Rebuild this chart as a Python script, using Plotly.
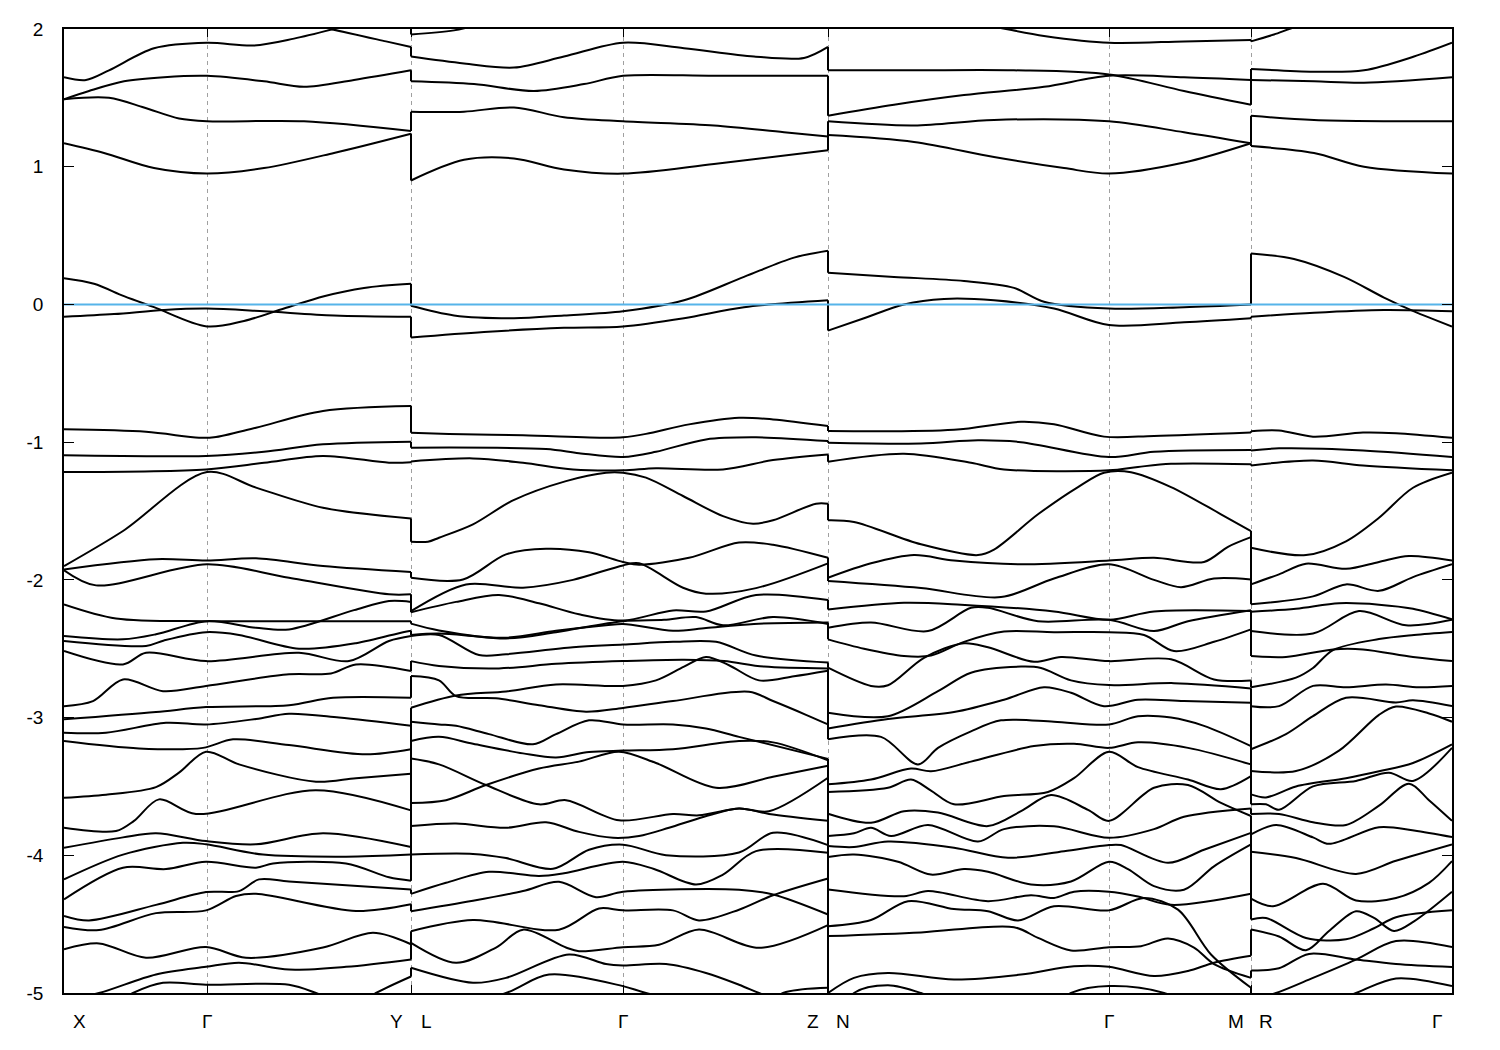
import plotly.graph_objects as go

# k-path: tick positions (path length, arbitrary units) and labels
TICK_K = [0, 143, 347, 559, 764, 1045, 1187, 1388]
TICK_LABELS = ["X", "Γ", "Y|L", "Γ", "Z|N", "Γ", "M|R", "Γ"]
Y_TICKS = [2, 1, 0, -1, -2, -3, -4, -5]
E_FERMI = 0.0

# Panel X–Γ–Y : each band is a list of (k, E [eV]) points
BANDS_XY = [
    [(0, 2.2), (200, 2.12), (267, 2.0), (322, 1.91), (347, 1.87)],
    [(0, 1.65), (22, 1.63), (45, 1.7), (90, 1.86), (143, 1.9), (190, 1.88), (230, 1.93), (270, 2.0), (347, 2.15)],
    [(0, 1.49), (25, 1.55), (60, 1.62), (100, 1.65), (143, 1.66), (200, 1.62), (240, 1.58), (290, 1.63), (347, 1.7)],
    [(0, 1.49), (45, 1.5), (80, 1.43), (115, 1.35), (143, 1.33), (240, 1.33), (347, 1.26)],
    [(0, 1.17), (40, 1.1), (90, 0.99), (143, 0.95), (200, 0.99), (270, 1.1), (347, 1.24)],
    [(0, 0.19), (30, 0.15), (60, 0.06), (90, -0.02), (143, -0.16), (180, -0.12), (220, -0.03), (260, 0.06), (300, 0.12), (347, 0.15)],
    [(0, -0.09), (50, -0.07), (100, -0.04), (143, -0.03), (200, -0.05), (270, -0.08), (347, -0.09)],
    [(0, -0.907), (82, -0.925), (135, -0.968), (150, -0.965), (192, -0.895), (259, -0.774), (347, -0.738)],
    [(0, -1.096), (142, -1.10), (200, -1.07), (259, -1.016), (347, -0.997)],
    [(0, -1.217), (142, -1.198), (200, -1.15), (259, -1.10), (325, -1.149), (347, -1.146)],
    [(0, -1.90), (59, -1.645), (143, -1.217), (192, -1.33), (259, -1.476), (347, -1.554)],
    [(0, -1.924), (92, -1.85), (143, -1.86), (192, -1.844), (259, -1.90), (347, -1.943)],
    [(0, -1.93), (32, -2.04), (143, -1.887), (225, -1.985), (325, -2.105), (347, -2.105)],
    [(0, -2.178), (52, -2.28), (143, -2.30), (259, -2.30), (347, -2.30)],
    [(0, -2.408), (59, -2.432), (92, -2.395), (143, -2.30), (192, -2.348), (225, -2.36), (290, -2.22), (325, -2.154), (347, -2.16)],
    [(0, -2.444), (82, -2.48), (100, -2.44), (142, -2.38), (175, -2.40), (235, -2.50), (292, -2.46), (339, -2.38), (347, -2.37)],
    [(0, -2.517), (59, -2.614), (82, -2.53), (142, -2.59), (235, -2.53), (285, -2.59), (325, -2.444), (347, -2.408)],
    [(0, -2.917), (29, -2.88), (59, -2.723), (99, -2.808), (142, -2.77), (225, -2.686), (267, -2.68), (292, -2.614), (347, -2.662)],
    [(0, -3.013), (92, -2.96), (142, -2.924), (225, -2.91), (269, -2.856), (347, -2.856)],
    [(0, -3.11), (42, -3.11), (102, -3.038), (142, -3.05), (192, -3.01), (225, -2.972), (275, -3.0), (347, -3.06)],
    [(0, -3.17), (75, -3.224), (139, -3.22), (169, -3.158), (225, -3.2), (302, -3.267), (347, -3.23)],
    [(0, -3.582), (42, -3.56), (92, -3.505), (115, -3.4), (142, -3.248), (175, -3.34), (252, -3.466), (292, -3.44), (347, -3.408)],
    [(0, -3.80), (52, -3.824), (70, -3.75), (95, -3.594), (132, -3.70), (252, -3.527), (347, -3.674)],
    [(0, -3.946), (59, -3.87), (92, -3.84), (142, -3.897), (192, -3.92), (259, -3.84), (347, -3.94)],
    [(0, -4.175), (59, -3.995), (119, -3.909), (142, -3.92), (199, -3.995), (282, -4.01), (347, -3.995)],
    [(0, -4.32), (59, -4.09), (102, -4.10), (142, -4.047), (192, -4.09), (209, -4.06), (282, -4.06), (325, -4.16), (347, -4.185)],
    [(0, -4.44), (25, -4.473), (92, -4.36), (142, -4.267), (175, -4.26), (195, -4.175), (225, -4.19), (347, -4.248)],
    [(0, -4.52), (35, -4.543), (92, -4.42), (142, -4.40), (172, -4.296), (192, -4.28), (292, -4.405), (347, -4.356)],
    [(0, -4.683), (35, -4.64), (82, -4.744), (142, -4.666), (182, -4.744), (259, -4.67), (309, -4.563), (347, -4.646)],
    [(0, -5.05), (35, -5.0), (92, -4.865), (142, -4.81), (175, -4.78), (225, -4.83), (282, -4.81), (347, -4.756)],
    [(0, -5.3), (69, -5.0), (99, -4.926), (142, -4.94), (225, -4.94), (252, -5.0), (300, -5.15), (347, -5.3)],
    [(0, -5.5), (290, -5.1), (312, -5.0), (347, -4.88)],
]

# Panel L–Γ–Z
BANDS_LZ = [
    [(347, 1.96), (390, 1.99), (430, 2.05), (764, 2.1)],
    [(347, 1.8), (400, 1.75), (450, 1.72), (500, 1.8), (559, 1.9), (620, 1.86), (690, 1.8), (740, 1.79), (764, 1.87)],
    [(347, 1.62), (410, 1.6), (470, 1.55), (520, 1.6), (559, 1.66), (650, 1.66), (764, 1.66)],
    [(347, 1.4), (400, 1.4), (450, 1.43), (500, 1.36), (559, 1.33), (650, 1.3), (720, 1.25), (764, 1.22)],
    [(347, 0.9), (400, 1.05), (450, 1.06), (500, 0.98), (559, 0.95), (650, 1.02), (764, 1.12)],
    [(347, -0.01), (390, -0.08), (450, -0.1), (500, -0.08), (559, -0.05), (620, 0.03), (680, 0.2), (730, 0.34), (764, 0.39)],
    [(347, -0.24), (420, -0.2), (500, -0.17), (559, -0.16), (620, -0.1), (680, -0.02), (764, 0.03)],
    [(347, -0.932), (385, -0.94), (459, -0.95), (542, -0.968), (559, -0.965), (582, -0.94), (625, -0.871), (675, -0.823), (709, -0.835), (764, -0.883)],
    [(347, -1.04), (482, -1.05), (515, -1.08), (559, -1.108), (592, -1.07), (642, -0.98), (692, -0.965), (764, -0.992)],
    [(347, -1.14), (409, -1.118), (459, -1.15), (509, -1.198), (559, -1.205), (592, -1.19), (659, -1.198), (709, -1.13), (764, -1.089)],
    [(347, -1.723), (364, -1.723), (375, -1.694), (409, -1.597), (449, -1.423), (502, -1.283), (542, -1.222), (559, -1.222), (582, -1.258), (619, -1.391), (659, -1.537), (689, -1.592), (709, -1.567), (752, -1.447), (764, -1.447)],
    [(347, -1.985), (399, -1.997), (442, -1.815), (482, -1.774), (525, -1.80), (559, -1.87), (575, -1.89), (625, -1.84), (675, -1.729), (709, -1.745), (764, -1.84)],
    [(347, -2.227), (402, -2.033), (459, -2.057), (509, -2.0), (559, -1.895), (575, -1.88), (619, -2.057), (642, -2.10), (692, -2.06), (764, -1.88)],
    [(347, -2.235), (392, -2.16), (435, -2.11), (475, -2.17), (515, -2.25), (559, -2.295), (609, -2.222), (642, -2.23), (692, -2.11), (764, -2.147)],
    [(347, -2.318), (375, -2.367), (442, -2.425), (492, -2.38), (559, -2.30), (600, -2.29), (632, -2.27), (659, -2.33), (709, -2.27), (764, -2.32)],
    [(347, -2.40), (375, -2.39), (442, -2.42), (492, -2.37), (542, -2.33), (559, -2.32), (609, -2.37), (642, -2.35), (690, -2.32), (764, -2.31)],
    [(347, -2.408), (375, -2.40), (415, -2.546), (442, -2.54), (509, -2.49), (559, -2.47), (609, -2.45), (652, -2.45), (692, -2.55), (764, -2.60)],
    [(347, -2.59), (375, -2.625), (435, -2.643), (492, -2.61), (559, -2.59), (620, -2.58), (660, -2.59), (700, -2.63), (764, -2.643)],
    [(347, -2.699), (375, -2.73), (392, -2.844), (432, -2.86), (475, -2.91), (522, -2.958), (559, -2.93), (609, -2.88), (685, -2.813), (709, -2.88), (742, -2.98), (764, -3.05)],
    [(347, -2.929), (392, -2.84), (442, -2.81), (492, -2.76), (559, -2.77), (592, -2.73), (620, -2.63), (642, -2.56), (665, -2.62), (695, -2.73), (730, -2.70), (764, -2.66)],
    [(347, -3.03), (375, -3.05), (392, -3.06), (425, -3.12), (469, -3.194), (492, -3.12), (525, -3.02), (559, -3.05), (609, -3.05), (642, -3.08), (675, -3.14), (764, -3.30)],
    [(347, -3.17), (375, -3.14), (409, -3.19), (459, -3.26), (492, -3.29), (525, -3.25), (559, -3.24), (609, -3.23), (675, -3.17), (709, -3.18), (764, -3.31)],
    [(347, -3.298), (375, -3.34), (422, -3.49), (475, -3.63), (502, -3.60), (555, -3.746), (609, -3.70), (635, -3.71), (675, -3.66), (705, -3.68), (764, -3.437)],
    [(347, -3.62), (382, -3.60), (422, -3.49), (475, -3.37), (515, -3.32), (555, -3.248), (592, -3.33), (652, -3.51), (709, -3.43), (764, -3.35)],
    [(347, -3.788), (392, -3.77), (442, -3.80), (482, -3.76), (515, -3.83), (549, -3.873), (575, -3.86), (605, -3.80), (640, -3.72), (675, -3.66), (705, -3.70), (764, -3.75)],
    [(347, -3.994), (409, -3.99), (442, -4.02), (489, -4.098), (525, -3.96), (559, -3.923), (602, -3.999), (675, -3.98), (709, -3.837), (764, -3.926)],
    [(347, -4.28), (382, -4.20), (425, -4.12), (475, -4.15), (500, -4.13), (559, -4.047), (590, -4.10), (632, -4.212), (659, -4.14), (692, -3.97), (764, -3.982)],
    [(347, -4.406), (409, -4.33), (459, -4.26), (495, -4.193), (532, -4.304), (559, -4.265), (675, -4.25), (709, -4.285), (764, -4.43)],
    [(347, -4.551), (409, -4.47), (495, -4.54), (535, -4.386), (559, -4.40), (609, -4.40), (635, -4.473), (675, -4.395), (709, -4.29), (764, -4.168)],
    [(347, -4.636), (392, -4.781), (432, -4.67), (459, -4.54), (502, -4.67), (515, -4.696), (559, -4.667), (595, -4.65), (635, -4.539), (695, -4.672), (764, -4.507)],
    [(347, -4.817), (409, -4.926), (442, -4.89), (505, -4.72), (542, -4.79), (559, -4.80), (602, -4.79), (642, -4.855), (675, -4.94), (695, -5.0), (764, -5.2)],
    [(347, -5.2), (442, -5.0), (485, -4.866), (559, -4.95), (582, -5.0), (764, -5.3)],
    [(347, -5.4), (700, -5.1), (719, -5.0), (764, -4.962)],
]

# Panel N–Γ–M
BANDS_NM = [
    [(764, 2.1), (900, 2.05), (980, 1.95), (1045, 1.9), (1120, 1.91), (1187, 1.92)],
    [(764, 1.7), (850, 1.7), (950, 1.7), (1045, 1.67), (1120, 1.55), (1187, 1.45)],
    [(764, 1.37), (830, 1.45), (900, 1.52), (980, 1.58), (1045, 1.66), (1120, 1.65), (1187, 1.63)],
    [(764, 1.33), (850, 1.3), (930, 1.34), (1045, 1.33), (1120, 1.25), (1187, 1.17)],
    [(764, 1.23), (850, 1.18), (930, 1.07), (1000, 0.99), (1045, 0.95), (1120, 1.03), (1187, 1.17)],
    [(764, 0.23), (830, 0.2), (900, 0.17), (950, 0.12), (980, 0.02), (1045, -0.03), (1120, -0.02), (1187, 0.0)],
    [(764, -0.19), (800, -0.1), (840, 0.0), (880, 0.04), (930, 0.03), (990, -0.03), (1045, -0.15), (1120, -0.13), (1187, -0.1)],
    [(764, -0.919), (890, -0.91), (957, -0.852), (990, -0.87), (1040, -0.96), (1090, -0.955), (1187, -0.93)],
    [(764, -1.004), (857, -1.01), (914, -0.987), (957, -1.0), (1045, -1.108), (1090, -1.07), (1187, -1.057)],
    [(764, -1.142), (840, -1.084), (907, -1.15), (940, -1.198), (1045, -1.205), (1074, -1.18), (1107, -1.157), (1187, -1.16)],
    [(764, -1.568), (790, -1.58), (857, -1.742), (914, -1.82), (930, -1.78), (974, -1.524), (1014, -1.326), (1040, -1.222), (1067, -1.218), (1107, -1.326), (1157, -1.524), (1187, -1.646)],
    [(764, -1.985), (807, -1.88), (850, -1.82), (890, -1.86), (957, -1.887), (1045, -1.86), (1090, -1.84), (1140, -1.87), (1164, -1.76), (1187, -1.69)],
    [(764, -2.009), (857, -2.06), (937, -2.125), (990, -1.99), (1045, -1.887), (1090, -2.0), (1117, -2.053), (1150, -1.99), (1187, -1.997)],
    [(764, -2.215), (840, -2.166), (897, -2.18), (990, -2.23), (1045, -2.29), (1090, -2.23), (1187, -2.227)],
    [(764, -2.348), (807, -2.31), (864, -2.372), (907, -2.203), (924, -2.203), (974, -2.30), (1045, -2.29), (1090, -2.372), (1124, -2.30), (1187, -2.22)],
    [(764, -2.432), (800, -2.50), (840, -2.553), (867, -2.55), (900, -2.45), (940, -2.375), (990, -2.38), (1045, -2.38), (1080, -2.40), (1110, -2.517), (1150, -2.45), (1187, -2.36)],
    [(764, -2.638), (807, -2.77), (824, -2.765), (860, -2.566), (900, -2.46), (924, -2.49), (970, -2.595), (997, -2.56), (1045, -2.59), (1107, -2.577), (1150, -2.723), (1187, -2.73)],
    [(764, -2.965), (824, -2.99), (874, -2.808), (907, -2.674), (957, -2.63), (977, -2.64), (1007, -2.73), (1045, -2.764), (1110, -2.75), (1187, -2.788)],
    [(764, -3.079), (824, -3.01), (890, -2.96), (940, -2.87), (980, -2.78), (1007, -2.82), (1040, -2.917), (1074, -2.87), (1120, -2.88), (1187, -2.892)],
    [(764, -3.158), (817, -3.14), (854, -3.34), (874, -3.22), (907, -3.10), (937, -3.02), (990, -3.03), (1045, -3.05), (1074, -2.99), (1107, -3.00), (1140, -3.06), (1187, -3.207)],
    [(764, -3.485), (807, -3.45), (847, -3.37), (867, -3.39), (907, -3.32), (970, -3.207), (1010, -3.19), (1045, -3.22), (1074, -3.18), (1124, -3.22), (1187, -3.34)],
    [(764, -3.54), (824, -3.51), (847, -3.45), (867, -3.53), (890, -3.63), (940, -3.57), (984, -3.54), (1010, -3.44), (1045, -3.248), (1074, -3.36), (1124, -3.45), (1157, -3.52), (1187, -3.425)],
    [(764, -3.698), (807, -3.764), (840, -3.68), (874, -3.69), (924, -3.788), (957, -3.68), (987, -3.563), (1024, -3.67), (1045, -3.75), (1090, -3.51), (1124, -3.49), (1157, -3.62), (1187, -3.715)],
    [(764, -3.86), (790, -3.84), (807, -3.80), (827, -3.86), (864, -3.78), (914, -3.90), (940, -3.81), (990, -3.79), (1045, -3.873), (1090, -3.81), (1120, -3.72), (1187, -3.66)],
    [(764, -3.933), (790, -3.94), (824, -3.90), (890, -3.945), (944, -4.018), (1000, -3.97), (1045, -3.926), (1057, -3.926), (1104, -4.055), (1140, -3.96), (1187, -3.837)],
    [(764, -4.013), (790, -3.995), (834, -4.047), (867, -4.14), (900, -4.10), (924, -4.12), (967, -4.212), (1007, -4.19), (1045, -4.047), (1064, -4.10), (1090, -4.224), (1120, -4.25), (1150, -4.08), (1187, -3.921)],
    [(764, -4.248), (840, -4.297), (864, -4.26), (924, -4.333), (967, -4.29), (990, -4.31), (1010, -4.265), (1045, -4.265), (1074, -4.30), (1107, -4.36), (1187, -4.28)],
    [(764, -4.515), (807, -4.47), (844, -4.333), (890, -4.39), (924, -4.406), (954, -4.473), (990, -4.37), (1045, -4.40), (1080, -4.31), (1114, -4.395), (1147, -4.72), (1187, -4.962)],
    [(764, -4.587), (857, -4.56), (950, -4.522), (974, -4.60), (1007, -4.691), (1045, -4.667), (1077, -4.66), (1104, -4.604), (1130, -4.67), (1150, -4.79), (1187, -4.89)],
    [(764, -5.0), (790, -4.89), (824, -4.855), (890, -4.902), (957, -4.866), (1010, -4.805), (1045, -4.81), (1090, -4.877), (1124, -4.84), (1150, -4.78), (1187, -4.73)],
    [(764, -5.3), (790, -5.0), (824, -4.943), (857, -5.0), (950, -5.3), (1007, -5.0), (1045, -4.95), (1100, -5.0), (1187, -5.3)],
]

# Panel R–Γ
BANDS_RG = [
    [(1187, 1.91), (1210, 1.96), (1240, 2.03), (1388, 2.1)],
    [(1187, 1.71), (1250, 1.69), (1300, 1.7), (1350, 1.8), (1388, 1.9)],
    [(1187, 1.63), (1250, 1.62), (1300, 1.61), (1388, 1.65)],
    [(1187, 1.37), (1250, 1.34), (1388, 1.33)],
    [(1187, 1.15), (1250, 1.1), (1300, 1.0), (1388, 0.95)],
    [(1187, 0.37), (1230, 0.33), (1280, 0.2), (1320, 0.05), (1350, -0.05), (1388, -0.16)],
    [(1187, -0.09), (1250, -0.06), (1320, -0.04), (1388, -0.05)],
    [(1187, -0.92), (1215, -0.915), (1249, -0.96), (1299, -0.93), (1332, -0.935), (1388, -0.968)],
    [(1187, -1.06), (1215, -1.045), (1299, -1.06), (1388, -1.108)],
    [(1187, -1.169), (1249, -1.133), (1299, -1.17), (1388, -1.205)],
    [(1187, -1.767), (1242, -1.82), (1282, -1.72), (1315, -1.549), (1349, -1.331), (1388, -1.222)],
    [(1187, -2.033), (1215, -1.96), (1242, -1.883), (1282, -1.92), (1315, -1.87), (1345, -1.827), (1388, -1.86)],
    [(1187, -2.178), (1249, -2.12), (1282, -2.033), (1315, -2.08), (1349, -1.98), (1388, -1.887)],
    [(1187, -2.231), (1232, -2.21), (1275, -2.17), (1315, -2.18), (1349, -2.21), (1388, -2.287)],
    [(1187, -2.372), (1249, -2.39), (1295, -2.227), (1342, -2.33), (1388, -2.29)],
    [(1187, -2.553), (1222, -2.56), (1269, -2.505), (1299, -2.505), (1349, -2.56), (1388, -2.59)],
    [(1187, -2.78), (1232, -2.71), (1249, -2.64), (1269, -2.51), (1315, -2.43), (1350, -2.40), (1388, -2.378)],
    [(1187, -2.917), (1215, -2.917), (1249, -2.77), (1282, -2.78), (1322, -2.76), (1355, -2.78), (1388, -2.77)],
    [(1187, -3.23), (1222, -3.12), (1249, -2.99), (1282, -2.856), (1332, -2.89), (1349, -2.875), (1388, -2.917)],
    [(1187, -3.388), (1232, -3.388), (1275, -3.24), (1315, -2.98), (1332, -2.92), (1365, -2.97), (1388, -3.03)],
    [(1187, -3.558), (1202, -3.58), (1232, -3.50), (1282, -3.44), (1315, -3.39), (1349, -3.33), (1388, -3.195)],
    [(1187, -3.63), (1202, -3.63), (1215, -3.67), (1249, -3.50), (1292, -3.46), (1325, -3.40), (1349, -3.46), (1388, -3.22)],
    [(1187, -3.70), (1215, -3.70), (1249, -3.76), (1282, -3.78), (1315, -3.64), (1345, -3.48), (1365, -3.6), (1388, -3.75)],
    [(1187, -3.849), (1212, -3.78), (1249, -3.87), (1265, -3.917), (1315, -3.796), (1350, -3.82), (1388, -3.868)],
    [(1187, -3.975), (1232, -4.02), (1292, -4.135), (1332, -4.04), (1388, -3.921)],
    [(1187, -4.314), (1209, -4.37), (1259, -4.207), (1292, -4.328), (1332, -4.31), (1365, -4.2), (1388, -4.042)],
    [(1187, -4.466), (1202, -4.455), (1242, -4.60), (1282, -4.61), (1310, -4.53), (1332, -4.45), (1388, -4.40)],
    [(1187, -4.539), (1215, -4.59), (1242, -4.69), (1265, -4.55), (1292, -4.406), (1310, -4.455), (1330, -4.55), (1350, -4.48), (1388, -4.265)],
    [(1187, -4.836), (1215, -4.82), (1245, -4.716), (1292, -4.757), (1332, -4.79), (1388, -4.812)],
    [(1187, -5.05), (1212, -5.0), (1249, -4.89), (1292, -4.757), (1332, -4.623), (1388, -4.667)],
    [(1187, -5.3), (1292, -5.0), (1332, -4.894), (1388, -4.95)],
]

PANELS = [BANDS_XY, BANDS_LZ, BANDS_NM, BANDS_RG]

BAND_COLOR = "black"
FERMI_COLOR = "#56b4e9"
FONT = "Liberation Sans, Arial, sans-serif"

fig = go.Figure()

for panel in PANELS:
    for band in panel:
        fig.add_trace(go.Scatter(
            x=[p[0] for p in band], y=[p[1] for p in band],
            mode="lines", line=dict(color=BAND_COLOR, width=2, shape="spline", smoothing=0.9),
            hoverinfo="skip", showlegend=False))

# vertical jumps at discontinuities: band n at end of one panel joins band n of the next
for left, right in zip(PANELS[:-1], PANELS[1:]):
    ends = sorted((b[-1] for b in left), key=lambda p: -p[1])
    starts = sorted((b[0] for b in right), key=lambda p: -p[1])
    xs, ys = [], []
    for a, b in zip(ends, starts):
        xs += [a[0], b[0], None]
        ys += [a[1], b[1], None]
    fig.add_trace(go.Scatter(x=xs, y=ys, mode="lines",
                             line=dict(color=BAND_COLOR, width=2),
                             hoverinfo="skip", showlegend=False))

fig.add_trace(go.Scatter(x=[TICK_K[0], TICK_K[-1]], y=[E_FERMI, E_FERMI], mode="lines",
                         line=dict(color=FERMI_COLOR, width=2),
                         hoverinfo="skip", showlegend=False))

annotations = []
for i, (k, lab) in enumerate(zip(TICK_K, TICK_LABELS)):
    parts = lab.split("|")
    if len(parts) == 2:
        items = [(parts[0], -15), (parts[1], 15)]
    elif i == 0:
        items = [(lab, 15)]
    elif i == len(TICK_K) - 1:
        items = [(lab, -15)]
    else:
        items = [(lab, 0)]
    for txt, dx in items:
        annotations.append(dict(x=k, y=0, xref="x", yref="paper", text=txt, showarrow=False,
                                xshift=dx, yshift=-28, yanchor="middle",
                                font=dict(family=FONT, size=19, color="black")))

fig.update_layout(
    width=1500, height=1050,
    margin=dict(l=56, r=56, t=21, b=65),
    paper_bgcolor="white", plot_bgcolor="white",
    showlegend=False,
    annotations=annotations,
    xaxis=dict(range=[TICK_K[0], TICK_K[-1]], tickvals=TICK_K, ticktext=[""] * len(TICK_K),
               ticks="inside", ticklen=8, tickcolor="black", tickwidth=1,
               showgrid=True, gridcolor="#a0a0a0", gridwidth=1, griddash="4px,4px",
               showline=True, linecolor="black", linewidth=1.5, mirror="allticks",
               zeroline=False),
    yaxis=dict(range=[-5, 2], tickvals=Y_TICKS, ticktext=[str(v) for v in Y_TICKS],
               ticks="inside", ticklen=10, tickcolor="black", tickwidth=1,
               showgrid=False, zeroline=False,
               showline=True, linecolor="black", linewidth=1.5, mirror="allticks",
               tickfont=dict(family=FONT, size=19, color="black"), ticklabelstandoff=15),
)

fig.write_html("out.html")
